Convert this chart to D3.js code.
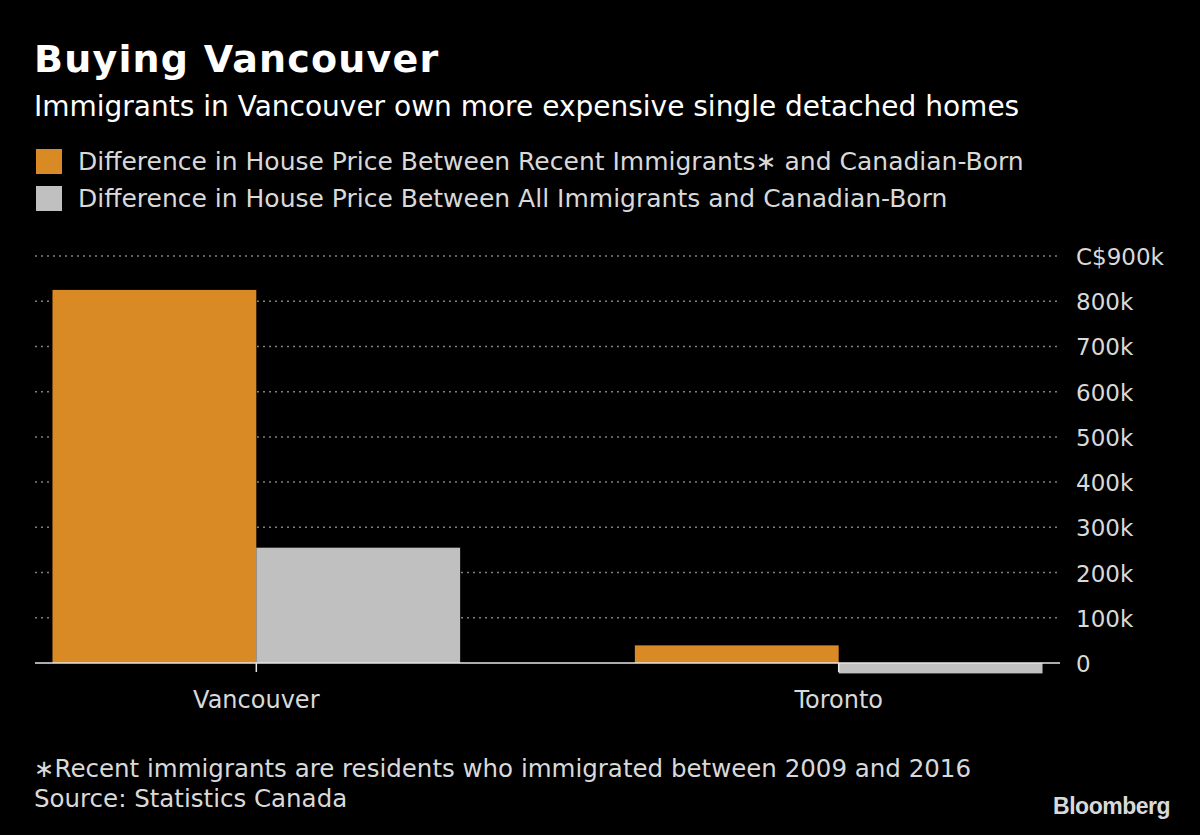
<!DOCTYPE html>
<html>
<head>
<meta charset="utf-8">
<script src="https://cdn.jsdelivr.net/npm/d3@7"></script>
<style>
  body { margin: 0; background: #000; }
  svg { display: block; font-family: "DejaVu Sans", sans-serif; }
</style>
</head>
<body>
<div id="chart"></div>
<script>
const cities = ["Vancouver", "Toronto"];
const seriesNames = [
  "Difference in House Price Between Recent Immigrants\u2217 and Canadian-Born",
  "Difference in House Price Between All Immigrants and Canadian-Born"
];
const recentValues = [825000, 39000];
const allValues = [255000, -23000];
const yTicks = [0, 100000, 200000, 300000, 400000, 500000, 600000, 700000, 800000, 900000];
const colors = ["#da8a25", "#c0c0c0"];

const width = 1200, height = 835;
const svg = d3.select("#chart").append("svg")
  .attr("width", width)
  .attr("height", height);

svg.append("rect").attr("width", width).attr("height", height).attr("fill", "#000");

// title block
svg.append("text").attr("x", 34).attr("y", 72)
  .attr("fill", "#fff").attr("font-size", 38).attr("font-weight", "bold")
  .attr("letter-spacing", 1.2)
  .text("Buying Vancouver");
svg.append("text").attr("x", 34).attr("y", 116)
  .attr("fill", "#fff").attr("font-size", 28)
  .text("Immigrants in Vancouver own more expensive single detached homes");

// legend
const legend = svg.append("g");
seriesNames.forEach((name, i) => {
  const ly = 149 + i * 37;
  legend.append("rect").attr("x", 36).attr("y", ly)
    .attr("width", 26).attr("height", 25).attr("fill", colors[i]);
  legend.append("text").attr("x", 78).attr("y", ly + 21)
    .attr("fill", "#d9d9d9").attr("font-size", 25)
    .text(name);
});

// scales
const x0 = d3.scaleBand().domain(cities).range([35, 1060])
  .paddingInner(0.3).paddingOuter(0.03);
const x1 = d3.scaleBand().domain([0, 1]).range([0, x0.bandwidth()]);
const y = d3.scaleLinear().domain([0, 900000]).range([663, 256]);

// gridlines
svg.append("g").selectAll("line")
  .data(yTicks.filter(d => d !== 0))
  .join("line")
  .attr("x1", 35).attr("x2", 1060)
  .attr("y1", d => y(d)).attr("y2", d => y(d))
  .attr("stroke", "#808080").attr("stroke-width", 1.5)
  .attr("stroke-dasharray", "2,4");

// y axis labels
const fmt = d => d === 0 ? "0" : (d === 900000 ? "C$" : "") + (d / 1000) + "k";
svg.append("g").selectAll("text")
  .data(yTicks)
  .join("text")
  .attr("x", 1076).attr("y", d => y(d) + 9)
  .attr("fill", "#d9d9d9").attr("font-size", 23)
  .text(fmt);

// bars
const rows = cities.map((c, i) => ({ city: c, vals: [recentValues[i], allValues[i]] }));
const groups = svg.append("g").selectAll("g")
  .data(rows)
  .join("g")
  .attr("transform", d => `translate(${x0(d.city)},0)`);
groups.selectAll("rect")
  .data(d => d.vals.map((v, i) => ({ v, i })))
  .join("rect")
  .attr("x", d => x1(d.i))
  .attr("width", x1.bandwidth())
  .attr("y", d => Math.min(y(d.v), y(0)))
  .attr("height", d => Math.abs(y(d.v) - y(0)))
  .attr("fill", d => colors[d.i]);

// zero line and ticks
svg.append("line").attr("x1", 35).attr("x2", 1060)
  .attr("y1", y(0)).attr("y2", y(0))
  .attr("stroke", "#e6e6e6").attr("stroke-width", 1.5);
svg.append("g").selectAll("line")
  .data(cities)
  .join("line")
  .attr("x1", d => x0(d) + x0.bandwidth() / 2)
  .attr("x2", d => x0(d) + x0.bandwidth() / 2)
  .attr("y1", y(0)).attr("y2", y(0) + 9)
  .attr("stroke", "#e6e6e6").attr("stroke-width", 1.5);
svg.append("g").selectAll("text")
  .data(cities)
  .join("text")
  .attr("x", d => x0(d) + x0.bandwidth() / 2)
  .attr("y", 708)
  .attr("text-anchor", "middle")
  .attr("fill", "#d9d9d9").attr("font-size", 24)
  .text(d => d);

// footer
svg.append("text").attr("x", 34).attr("y", 777)
  .attr("fill", "#d9d9d9").attr("font-size", 24.5)
  .text("\u2217Recent immigrants are residents who immigrated between 2009 and 2016");
svg.append("text").attr("x", 34).attr("y", 807)
  .attr("fill", "#d9d9d9").attr("font-size", 24.5)
  .text("Source: Statistics Canada");
svg.append("text").attr("x", 1170).attr("y", 814)
  .attr("text-anchor", "end")
  .attr("fill", "#d9d9d9").attr("font-size", 23).attr("font-weight", "bold")
  .attr("font-family", "Liberation Sans, Arial, sans-serif")
  .attr("letter-spacing", -0.5)
  .text("Bloomberg");
</script>
</body>
</html>
